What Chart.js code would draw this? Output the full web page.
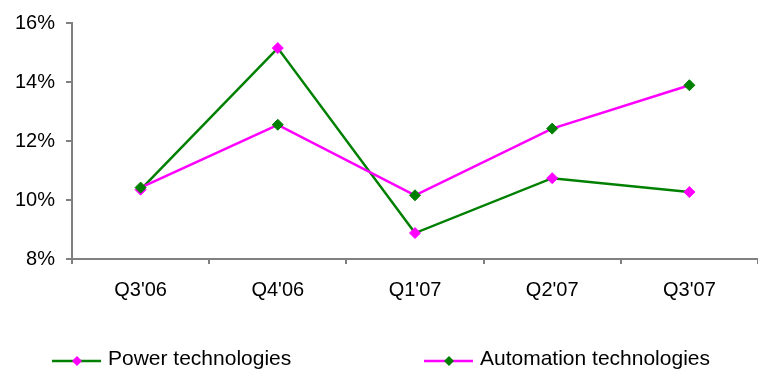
<!DOCTYPE html>
<html>
<head>
<meta charset="utf-8">
<script src="https://cdn.jsdelivr.net/npm/chart.js@4.4.1/dist/chart.umd.min.js"></script>
<style>
  html, body { margin: 0; padding: 0; background: #ffffff; }
  #wrap { position: relative; width: 758px; height: 370px; }
</style>
</head>
<body>
<div id="wrap"><canvas id="chart" width="758" height="370"></canvas></div>
<script>
// Quarterly margins by division (%)
const quarters = ["Q3'06", "Q4'06", "Q1'07", "Q2'07", "Q3'07"];
const powerTech = [10.35, 15.15, 8.88, 10.74, 10.27];
const automationTech = [10.42, 12.55, 10.16, 12.42, 13.89];
const seriesNames = ["Power technologies", "Automation technologies"];
const yTicks = [8, 10, 12, 14, 16];

const GREEN = '#008000';
const MAGENTA = '#FF00FF';
const AXIS = '#808080';
const FONT = "'Liberation Sans', Arial, sans-serif";

// Legend drawn below the plot: line in the series colour with its marker on top
const bottomLegend = {
  id: 'bottomLegend',
  afterDraw(chart) {
    const ctx = chart.ctx;
    const slots = [52, 424];
    const y = 361;
    ctx.save();
    chart.data.datasets.forEach((ds, i) => {
      const x0 = slots[i];
      ctx.strokeStyle = ds.borderColor;
      ctx.lineWidth = 2.5;
      ctx.beginPath();
      ctx.moveTo(x0, y);
      ctx.lineTo(x0 + 49, y);
      ctx.stroke();
      const cx = x0 + 25, r = 5;
      ctx.fillStyle = ds.pointBackgroundColor;
      ctx.beginPath();
      ctx.moveTo(cx, y - r);
      ctx.lineTo(cx + r, y);
      ctx.lineTo(cx, y + r);
      ctx.lineTo(cx - r, y);
      ctx.closePath();
      ctx.fill();
      ctx.fillStyle = '#000000';
      ctx.font = '21px ' + FONT;
      ctx.textBaseline = 'middle';
      ctx.textAlign = 'left';
      ctx.fillText(ds.label, x0 + 56, y - 2);
    });
    ctx.restore();
  }
};

new Chart(document.getElementById('chart'), {
  type: 'line',
  data: {
    labels: quarters,
    datasets: [
      {
        label: seriesNames[0],
        data: powerTech,
        borderColor: GREEN,
        borderWidth: 2.5,
        pointStyle: 'rectRot',
        pointRadius: 5.5,
        pointBackgroundColor: MAGENTA,
        pointBorderColor: MAGENTA,
        pointBorderWidth: 1,
        tension: 0,
        fill: false,
        order: 1
      },
      {
        label: seriesNames[1],
        data: automationTech,
        borderColor: MAGENTA,
        borderWidth: 2.5,
        pointStyle: 'rectRot',
        pointRadius: 5.5,
        pointBackgroundColor: GREEN,
        pointBorderColor: GREEN,
        pointBorderWidth: 1,
        tension: 0,
        fill: false,
        order: 0
      }
    ]
  },
  options: {
    responsive: false,
    animation: false,
    devicePixelRatio: 1,
    layout: { autoPadding: false, padding: { top: 20, right: 0, left: 0, bottom: 0 } },
    plugins: {
      legend: { display: false },
      tooltip: { enabled: false }
    },
    scales: {
      x: {
        type: 'category',
        offset: true,
        grid: {
          offset: true,
          drawOnChartArea: false,
          drawTicks: true,
          tickLength: 5,
          color: AXIS,
          lineWidth: 2
        },
        border: { display: true, color: AXIS, width: 2 },
        ticks: {
          color: '#000000',
          font: { family: FONT, size: 20 },
          padding: 14,
          maxRotation: 0
        },
        afterFit(scale) {
          scale.height = 111;
          scale.paddingLeft = 0;
          scale.paddingRight = 0;
        }
      },
      y: {
        min: 8,
        max: 16,
        afterBuildTicks(scale) { scale.ticks = yTicks.map(v => ({ value: v })); },
        grid: {
          drawOnChartArea: false,
          drawTicks: true,
          tickLength: 6,
          color: AXIS,
          lineWidth: 2
        },
        border: { display: true, color: AXIS, width: 2 },
        ticks: {
          color: '#000000',
          font: { family: FONT, size: 20 },
          padding: 11,
          callback: v => v + '%'
        },
        afterFit(scale) { scale.width = 72; }
      }
    }
  },
  plugins: [bottomLegend]
});
</script>
</body>
</html>
